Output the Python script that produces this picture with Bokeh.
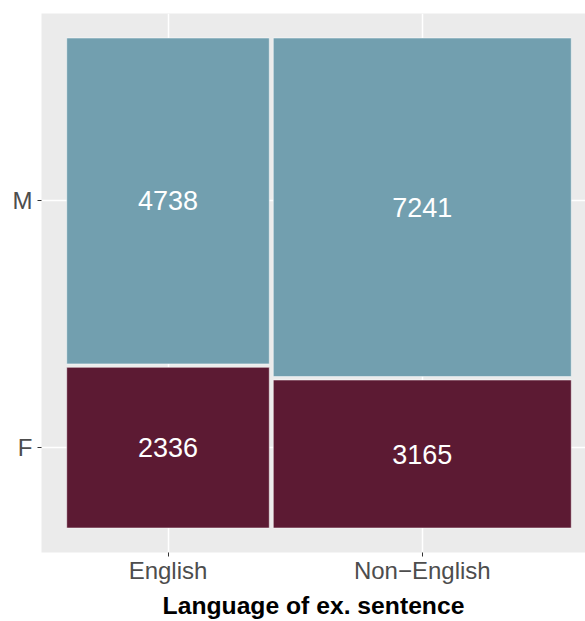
from bokeh.plotting import figure
from bokeh.models import FixedTicker, ColumnDataSource
from bokeh.core.properties import value
from bokeh.embed import file_html
from bokeh.resources import INLINE

# ---- data ----
languages = ["English", "Non\u2212English"]
counts_F = [2336, 3165]
counts_M = [4738, 7241]
gender_labels = ["F", "M"]
color_F = "#5C1A33"
color_M = "#729FAF"
x_title = "Language of ex. sentence"

# ---- mosaic geometry (proportions) ----
gap_x = 0.008
gap_y = 0.007
totals = [f + m for f, m in zip(counts_F, counts_M)]
grand = sum(totals)
widths = [t / grand for t in totals]

left, right, bottom, top, colors, texts, cx, cy = [], [], [], [], [], [], [], []
x0 = 0.0
col_centers = []
first_col_centers = None
for i, lang in enumerate(languages):
    w = widths[i]
    pf = counts_F[i] / totals[i]
    segs = [(0.0, pf, color_F, counts_F[i]), (pf + gap_y, 1.0 + gap_y, color_M, counts_M[i])]
    for (b, t, c, n) in segs:
        left.append(x0); right.append(x0 + w); bottom.append(b); top.append(t)
        colors.append(c); texts.append(str(n)); cx.append(x0 + w / 2); cy.append((b + t) / 2)
    if first_col_centers is None:
        first_col_centers = [(s[0] + s[1]) / 2 for s in segs]
    col_centers.append(x0 + w / 2)
    x0 += w + gap_x

src = ColumnDataSource(dict(left=left, right=right, bottom=bottom, top=top,
                            color=colors, text=texts, cx=cx, cy=cy))

# ranges with ggplot-like 5% expansion
x_full = 1.0 + gap_x
y_full = 1.0 + gap_y
x_lo = -0.05 * x_full
x_hi_full = 1.05 * x_full
y_lo = -0.05 * y_full
y_hi = 1.05 * y_full

frame_w_visible = 544
frame_w_full = 555
x_hi = x_lo + (x_hi_full - x_lo) * frame_w_visible / frame_w_full

p = figure(width=585, height=621, output_backend="svg", toolbar_location=None,
           x_range=(x_lo, x_hi), y_range=(y_lo, y_hi),
           min_border_left=41, min_border_right=0, min_border_top=13, min_border_bottom=69)
p.background_fill_color = "#EBEBEB"
p.border_fill_color = "white"
p.outline_line_color = None

p.quad(left="left", right="right", bottom="bottom", top="top", source=src,
       fill_color="color", line_color="white", line_alpha=0.5, line_width=1)

p.text(x="cx", y="cy", text="text", source=src, text_color="white",
       text_font=value("Liberation Sans"), text_font_size="27px",
       text_align="center", text_baseline="middle")

p.xaxis.ticker = FixedTicker(ticks=col_centers)
p.xaxis.major_label_overrides = {c: l for c, l in zip(col_centers, languages)}
p.yaxis.ticker = FixedTicker(ticks=first_col_centers)
p.yaxis.major_label_overrides = {c: l for c, l in zip(first_col_centers, gender_labels)}

for ax in (p.xaxis[0], p.yaxis[0]):
    ax.axis_line_color = None
    ax.major_tick_line_color = "#333333"
    ax.major_tick_line_width = 1
    ax.major_tick_out = 4
    ax.major_tick_in = 0
    ax.minor_tick_line_color = None
    ax.major_label_text_font = "Liberation Sans"
    ax.major_label_text_font_size = "24px"
    ax.major_label_text_color = "#4D4D4D"
p.xaxis.major_label_standoff = 0
p.yaxis.major_label_standoff = 5

p.xaxis.axis_label = x_title
p.xaxis.axis_label_text_font = "Liberation Sans"
p.xaxis.axis_label_text_font_size = "24.7px"
p.xaxis.axis_label_text_font_style = "bold"
p.xaxis.axis_label_text_color = "black"
p.xaxis.axis_label_standoff = 5

for g in (p.xgrid[0], p.ygrid[0]):
    g.grid_line_color = "white"
    g.grid_line_width = 1.5

open("out.html", "w").write(file_html(p, INLINE))
